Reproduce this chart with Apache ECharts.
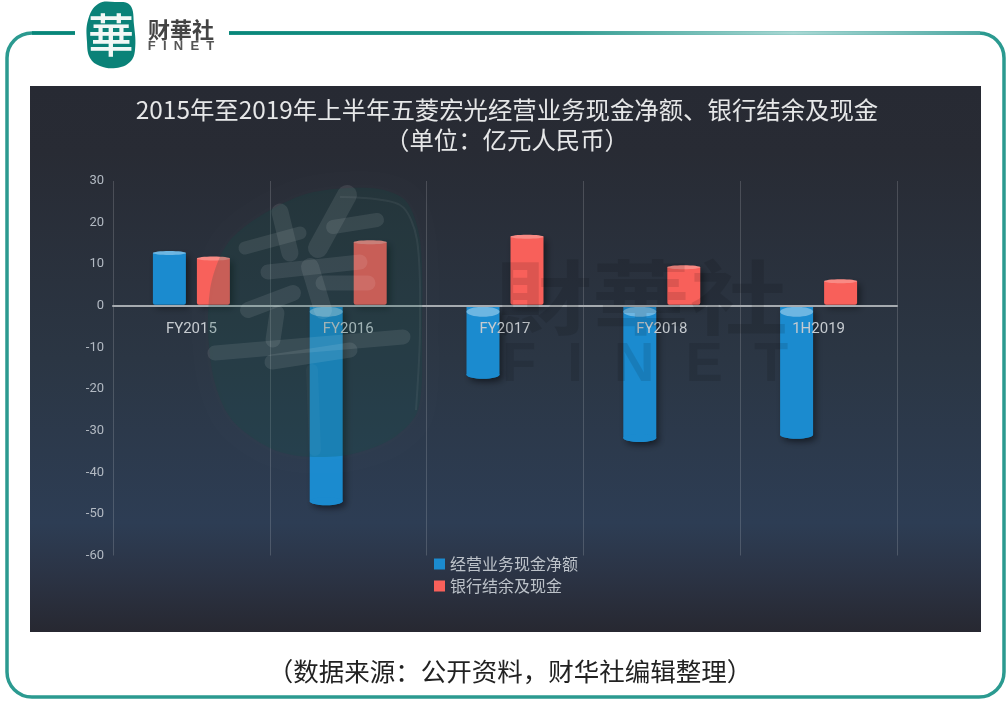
<!DOCTYPE html>
<html>
<head>
<meta charset="utf-8">
<style>html,body{margin:0;padding:0;background:#fff}#c{width:1008px;height:702px}</style>
<script src="https://cdn.jsdelivr.net/npm/echarts@6/dist/echarts.min.js"></script>
</head>
<body>
<div id="c"></div>
<script>
const categories = ['FY2015', 'FY2016', 'FY2017', 'FY2018', '1H2019'];
const operatingCash = [12.7, -47.7, -17.3, -32.5, -31.7];
const bankCash = [11.4, 15.3, 16.6, 9.3, 5.9];
const yMin = -60, yMax = 30, yStep = 10;
const titleText = '2015年至2019年上半年五菱宏光经营业务现金净额、银行结余及现金\n（单位：亿元人民币）';
const sourceText = '（数据来源：公开资料，财华社编辑整理）';
const seriesNames = ['经营业务现金净额', '银行结余及现金'];

const CJK = '"Noto Sans CJK SC","Noto Sans",sans-serif';
const BAR_W = 33, BAR_OFF = 22;

function cylinder(offset, color, capColor) {
  return function (params, api) {
    const idx = api.value(0), val = api.value(1);
    const p = api.coord([idx, val]);
    const z = api.coord([idx, 0]);
    const cx = p[0] + offset, hw = BAR_W / 2;
    const children = [];
    const shadow = {shadowBlur: 7, shadowOffsetX: 3, shadowOffsetY: 3, shadowColor: 'rgba(0,0,0,0.45)'};
    if (val >= 0) {
      children.push({type: 'rect', shape: {x: cx - hw, y: p[1], width: BAR_W, height: z[1] - p[1] - 1, r: [0, 0, 2, 2]},
        style: Object.assign({fill: color}, shadow)});
      children.push({type: 'ellipse', shape: {cx: cx, cy: p[1], rx: hw, ry: 2}, style: {fill: capColor}});
    } else {
      children.push({type: 'ellipse', shape: {cx: cx, cy: p[1] - 3, rx: hw, ry: 4}, style: Object.assign({fill: color}, shadow)});
      children.push({type: 'rect', shape: {x: cx - hw, y: z[1] + 1, width: BAR_W, height: p[1] - z[1] - 4},
        style: Object.assign({fill: color}, shadow)});
      children.push({type: 'ellipse', shape: {cx: cx, cy: p[1] - 3, rx: hw, ry: 4}, style: {fill: color}});
      children.push({type: 'ellipse', shape: {cx: cx, cy: z[1] + 6, rx: hw, ry: 5}, style: {fill: capColor}});
    }
    return {type: 'group', children: children};
  };
}

const panelFill = new echarts.graphic.LinearGradient(0, 0, 0, 1, [
  {offset: 0, color: '#272a33'}, {offset: 0.12, color: '#282b34'},
  {offset: 0.5, color: '#2b3644'}, {offset: 0.8, color: '#2d3d54'},
  {offset: 0.9, color: '#2b3344'}, {offset: 1, color: '#272831'}
]);
const topFill = new echarts.graphic.LinearGradient(0, 0, 1, 0, [
  {offset: 0, color: '#078679'}, {offset: 0.45, color: '#2f9b90'},
  {offset: 0.75, color: '#a9d8d4'}, {offset: 1, color: '#4fa9a4'}
]);
const bgZ = -10, topZ = 50;
const logoPoints = [[98,4],[115,2],[130,5],[134,25],[135,50],[130,62],[116,68],[100,66],[90,58],[87,42],[88,20]];
const wmPoints = [[300,196],[370,188],[405,200],[420,240],[422,330],[418,410],[390,440],[340,456],[280,452],[232,420],[212,370],[210,290],[232,238]];
const wmEdge = [[340,197],[400,205],[417,240],[420,330],[416,410]];
const wmStrokes = [
  [[280,212],[290,253],17,0.09], [[245,248],[300,233],13,0.09], [[347,195],[318,248],20,0.09], [[333,227],[377,220],14,0.09],
  [[268,272],[360,262],15,0.09], [[248,310],[293,293],16,0.09], [[310,267],[323,310],18,0.09], [[323,283],[368,283],15,0.09],
  [[215,353],[403,337],15,0.09], [[272,362],[350,350],15,0.09], [[277,313],[273,340],15,0.09], [[312,370],[315,450],12,0.03]
];

const graphicElements = [
  {type: 'rect', z: bgZ, shape: {x: 30, y: 86, width: 951, height: 546}, style: {fill: panelFill}},
  {type: 'rect', z: bgZ, shape: {x: 7, y: 33, width: 997, height: 664, r: 25}, style: {fill: 'none', stroke: '#2b9a90', lineWidth: 3.5}},
  {type: 'rect', z: bgZ + 1, shape: {x: 75, y: 28, width: 154, height: 10}, style: {fill: '#fff'}},
  {type: 'line', z: bgZ + 1, shape: {x1: 229, y1: 33, x2: 980, y2: 33}, style: {stroke: topFill, lineWidth: 3.5}},
  {type: 'line', z: bgZ + 1, shape: {x1: 32, y1: 33, x2: 75, y2: 33}, style: {stroke: '#078679', lineWidth: 3.5}},
  {type: 'polygon', z: bgZ + 2, shape: {points: logoPoints, smooth: 0.4}, style: {fill: '#0a8278'}},
  {type: 'text', z: bgZ + 3, style: {text: '華', x: 111, y: 35, font: '500 46px ' + CJK, fill: '#f2f8f6', align: 'center', verticalAlign: 'middle'}},
  {type: 'text', z: bgZ + 3, style: {text: '财華社', x: 181, y: 30, font: 'bold 22px ' + CJK, fill: '#444', align: 'center', verticalAlign: 'middle'}},
  {type: 'text', z: bgZ + 3, style: {text: 'F  I  N  E  T', x: 181, y: 46, font: 'bold 13px "Liberation Sans"', fill: '#555', align: 'center', verticalAlign: 'middle'}},
  {type: 'polygon', z: topZ, shape: {points: wmPoints, smooth: 0.3}, style: {fill: 'rgba(10,80,70,0.2)', shadowBlur: 14, shadowColor: 'rgba(255,255,255,0.05)'}},
  {type: 'polyline', z: topZ, shape: {points: wmEdge, smooth: 0.3}, style: {fill: 'none', stroke: 'rgba(255,255,255,0.06)', lineWidth: 2}}
].concat(wmStrokes.map(s => ({
  type: 'line', z: topZ, shape: {x1: s[0][0], y1: s[0][1], x2: s[1][0], y2: s[1][1]},
  style: {stroke: 'rgba(255,255,255,' + s[3] + ')', lineWidth: s[2], lineCap: 'round'}
}))).concat([
  {type: 'text', z: topZ, x: 641, y: 297, scaleY: 0.82, style: {text: '財華社', x: 0, y: 0, font: 'bold 98px ' + CJK, fill: 'rgba(0,0,0,0.11)', align: 'center', verticalAlign: 'middle'}},
  {type: 'text', z: topZ, style: {text: 'F  I  N  E  T', x: 645, y: 366, font: 'bold 56px "Liberation Sans"', fill: 'rgba(0,0,0,0.10)', align: 'center', verticalAlign: 'middle'}}
]);

const chart = echarts.init(document.getElementById('c'), null, {width: 1008, height: 702, renderer: 'canvas'});
chart.setOption({
  animation: false,
  backgroundColor: '#fff',
  title: [
    {text: titleText, left: 502, top: 90, textAlign: 'center',
      textStyle: {color: '#e6e7e8', fontSize: 24.4, fontWeight: 'normal', fontFamily: CJK, lineHeight: 30}},
    {text: sourceText, left: 505, top: 651, textAlign: 'center',
      textStyle: {color: '#222', fontSize: 25.5, fontWeight: 'normal', fontFamily: CJK, lineHeight: 30}}
  ],
  grid: {left: 113, right: 111, top: 181, bottom: 146.5, containLabel: false},
  legend: {
    orient: 'vertical', left: 429, top: 551, itemWidth: 11, itemHeight: 11, itemGap: 6, icon: 'rect',
    textStyle: {color: '#bcc2c9', fontSize: 16, fontFamily: CJK},
    data: seriesNames
  },
  xAxis: {
    type: 'category', data: categories, z: 8,
    axisLine: {show: true, onZero: true, lineStyle: {color: '#a6abb0', width: 2}},
    axisTick: {show: false},
    axisLabel: {color: '#c6cbd0', fontSize: 15, fontFamily: 'Roboto,"Noto Sans",sans-serif', margin: -234, interval: 0},
    splitLine: {show: true, lineStyle: {color: 'rgba(255,255,255,0.16)', width: 1}}
  },
  yAxis: {
    type: 'value', min: yMin, max: yMax, interval: yStep,
    axisLine: {show: false}, axisTick: {show: false},
    axisLabel: {color: '#b3bac3', fontSize: 13, fontFamily: 'Roboto,"Noto Sans",sans-serif', margin: 9},
    splitLine: {show: false}
  },
  series: [
    {name: seriesNames[0], type: 'custom', z: 3, clip: false,
      itemStyle: {color: '#1b8bcf'},
      renderItem: cylinder(-BAR_OFF, '#1b8bcf', '#6db6e2'),
      encode: {x: 0, y: 1},
      data: operatingCash.map((v, i) => [i, v])},
    {name: seriesNames[1], type: 'custom', z: 3, clip: false,
      itemStyle: {color: '#f8605a'},
      renderItem: cylinder(BAR_OFF, '#f8605a', '#f98a84'),
      encode: {x: 0, y: 1},
      data: bankCash.map((v, i) => [i, v])}
  ],
  graphic: {elements: graphicElements}
});
</script>
</body>
</html>
